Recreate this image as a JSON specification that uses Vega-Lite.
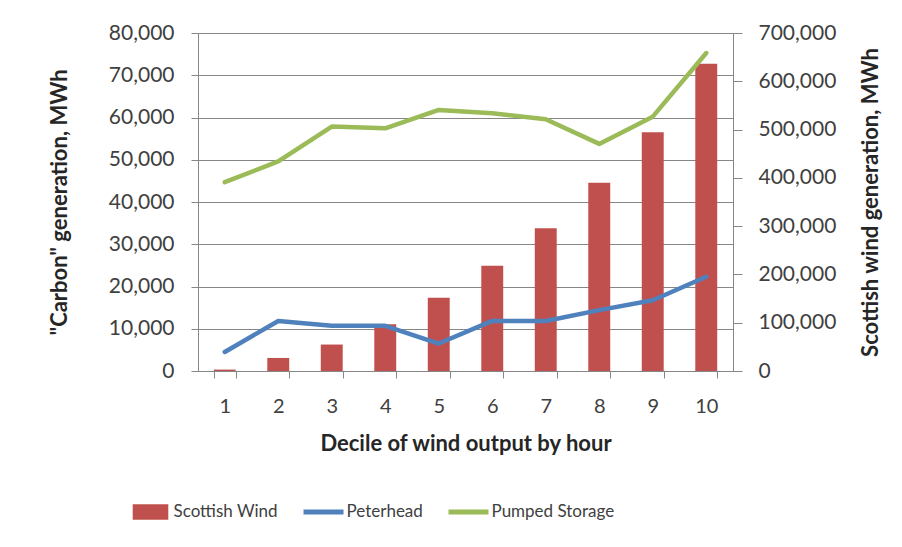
{
  "$schema": "https://vega.github.io/schema/vega-lite/v6.json",
  "width": 535,
  "height": 338,
  "autosize": {"type": "none"},
  "padding": {"left": 198, "top": 33, "right": 169, "bottom": 176},
  "background": "white",
  "datasets": {
    "wind": [
      {"decile": "1", "series": "Scottish Wind", "value": 2900},
      {"decile": "2", "series": "Scottish Wind", "value": 27000},
      {"decile": "3", "series": "Scottish Wind", "value": 54800},
      {"decile": "4", "series": "Scottish Wind", "value": 96900},
      {"decile": "5", "series": "Scottish Wind", "value": 151500},
      {"decile": "6", "series": "Scottish Wind", "value": 217800},
      {"decile": "7", "series": "Scottish Wind", "value": 295400},
      {"decile": "8", "series": "Scottish Wind", "value": 390000},
      {"decile": "9", "series": "Scottish Wind", "value": 494600},
      {"decile": "10", "series": "Scottish Wind", "value": 636300}
    ],
    "lines": [
      {"decile": "1", "series": "Peterhead", "value": 4500},
      {"decile": "2", "series": "Peterhead", "value": 11850},
      {"decile": "3", "series": "Peterhead", "value": 10700},
      {"decile": "4", "series": "Peterhead", "value": 10700},
      {"decile": "5", "series": "Peterhead", "value": 6500},
      {"decile": "6", "series": "Peterhead", "value": 11850},
      {"decile": "7", "series": "Peterhead", "value": 11850},
      {"decile": "8", "series": "Peterhead", "value": 14400},
      {"decile": "9", "series": "Peterhead", "value": 16750},
      {"decile": "10", "series": "Peterhead", "value": 22300},
      {"decile": "1", "series": "Pumped Storage", "value": 44700},
      {"decile": "2", "series": "Pumped Storage", "value": 49600},
      {"decile": "3", "series": "Pumped Storage", "value": 57850},
      {"decile": "4", "series": "Pumped Storage", "value": 57450},
      {"decile": "5", "series": "Pumped Storage", "value": 61800},
      {"decile": "6", "series": "Pumped Storage", "value": 61000},
      {"decile": "7", "series": "Pumped Storage", "value": 59600},
      {"decile": "8", "series": "Pumped Storage", "value": 53750},
      {"decile": "9", "series": "Pumped Storage", "value": 60200},
      {"decile": "10", "series": "Pumped Storage", "value": 75250}
    ]
  },
  "layer": [
    {
      "data": {"name": "wind"},
      "mark": {"type": "bar", "color": "#C0504D"},
      "encoding": {
        "x": {
          "field": "decile",
          "type": "ordinal",
          "sort": ["1","2","3","4","5","6","7","8","9","10"],
          "scale": {"paddingInner": 0.59, "paddingOuter": 0.295},
          "axis": {
            "title": "Decile of wind output by hour",
            "labelAngle": 0,
            "tickBand": "extent",
            "tickSize": 7,
            "labelPadding": 18,
            "titleY": 79,
            "titleBaseline": "alphabetic"
          }
        },
        "y": {
          "field": "value",
          "type": "quantitative",
          "scale": {"domain": [0, 700000], "nice": false},
          "axis": {
            "orient": "right",
            "title": "Scottish wind generation, MWh",
            "grid": false,
            "values": [0, 100000, 200000, 300000, 400000, 500000, 600000, 700000],
            "format": ",.0f",
            "labelFontSize": 21,
            "tickSize": 9,
            "labelPadding": 16,
            "titleAngle": 270,
            "titleX": 144,
            "titleBaseline": "alphabetic"
          }
        },
        "color": {
          "field": "series",
          "type": "nominal",
          "scale": {
            "domain": ["Scottish Wind", "Peterhead", "Pumped Storage"],
            "range": ["#C0504D", "#4F81BD", "#9BBB59"]
          },
          "legend": {
            "orient": "none",
            "direction": "horizontal",
            "legendX": -67.5,
            "legendY": 459,
            "title": null,
            "padding": 0,
            "labelFont": "Lato",
            "labelFontSize": 17,
            "labelColor": "#404040",
            "symbolSize": 1600,
            "columnPadding": 25,
            "labelOffset": 3,
            "encode": {
              "symbols": {
                "update": {
                  "shape": {"signal": "datum.label === 'Scottish Wind' ? 'M-0.89,-0.39H0.89V0.39H-0.89Z' : 'M-1,-0.12H1V0.12H-1Z'"},
                  "fill": {"signal": "scale('color', datum.value)"},
                  "stroke": {"value": "transparent"},
                  "strokeWidth": {"value": 0},
                  "opacity": {"value": 1}
                }
              }
            }
          }
        }
      }
    },
    {
      "data": {"name": "lines"},
      "mark": {"type": "line", "strokeWidth": 4.5, "strokeCap": "round", "strokeJoin": "round"},
      "encoding": {
        "x": {"field": "decile", "type": "ordinal", "sort": ["1","2","3","4","5","6","7","8","9","10"]},
        "y": {
          "field": "value",
          "type": "quantitative",
          "scale": {"domain": [0, 80000], "nice": false},
          "axis": {
            "orient": "left",
            "title": "\"Carbon\" generation, MWh",
            "grid": true,
            "values": [0, 10000, 20000, 30000, 40000, 50000, 60000, 70000, 80000],
            "format": ",.0f",
            "labelFontSize": 21,
            "tickSize": 7,
            "labelPadding": 17,
            "titleX": -132,
            "titleBaseline": "alphabetic"
          }
        },
        "color": {"field": "series", "type": "nominal"}
      }
    }
  ],
  "resolve": {"scale": {"y": "independent"}},
  "config": {
    "view": {"stroke": null},
    "axis": {
      "labelFont": "Lato",
      "labelFontSize": 20,
      "labelColor": "#404040",
      "titleFont": "Lato",
      "titleFontSize": 22,
      "titleFontWeight": "bold",
      "titleColor": "#262626",
      "domainColor": "#868686",
      "tickColor": "#868686",
      "gridColor": "#868686",
      "gridOpacity": 1,
      "domainWidth": 1,
      "tickWidth": 1,
      "gridWidth": 1
    }
  }
}
